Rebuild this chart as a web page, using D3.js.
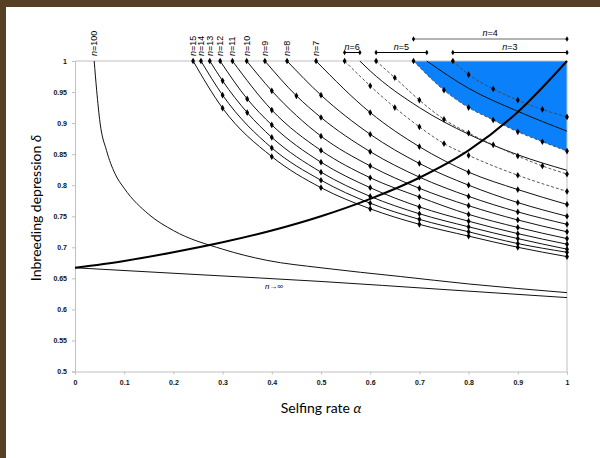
<!DOCTYPE html>
<html><head><meta charset="utf-8">
<script src="https://cdn.jsdelivr.net/npm/d3@7"></script>
<style>body{margin:0;background:#fff}svg{display:block}</style>
</head><body>
<svg id="c" width="600" height="458"></svg>
<script>
// ---- data ----
const alphaTicks = [0,0.1,0.2,0.3,0.4,0.5,0.6,0.7,0.8,0.9,1];
const deltaTicks = [0.5,0.55,0.6,0.65,0.7,0.75,0.8,0.85,0.9,0.95,1];

// marked curves (alpha, delta)
const n15 = [[0.240,1],[0.3,0.924],[0.4,0.846],[0.5,0.796],[0.6,0.762],[0.7,0.737],[0.8,0.718],[0.9,0.700],[1,0.685]];
const n14 = [[0.256,1],[0.3,0.945],[0.4,0.860],[0.5,0.808],[0.6,0.771],[0.7,0.745],[0.8,0.725],[0.9,0.706],[1,0.692]];
const n13 = [[0.274,1],[0.3,0.968],[0.35,0.917],[0.4,0.877],[0.5,0.821],[0.6,0.782],[0.7,0.754],[0.8,0.733],[0.9,0.714],[1,0.697]];
const n12 = [[0.295,1],[0.35,0.939],[0.4,0.897],[0.5,0.837],[0.6,0.796],[0.7,0.765],[0.8,0.742],[0.9,0.722],[1,0.705]];
const n11 = [[0.320,1],[0.4,0.921],[0.5,0.856],[0.6,0.812],[0.7,0.781],[0.8,0.753],[0.9,0.732],[1,0.714]];
const n10 = [[0.349,1],[0.4,0.952],[0.5,0.879],[0.6,0.831],[0.7,0.795],[0.8,0.767],[0.9,0.744],[1,0.725]];
const n9  = [[0.386,1],[0.45,0.944],[0.5,0.909],[0.6,0.854],[0.7,0.813],[0.8,0.782],[0.9,0.757],[1,0.737]];
const n8  = [[0.431,1],[0.5,0.945],[0.6,0.882],[0.7,0.835],[0.8,0.800],[0.9,0.772],[1,0.750]];
const n7  = [[0.490,1],[0.6,0.917],[0.7,0.862],[0.8,0.821],[0.9,0.793],[1,0.769]];
// dashed marked curves
const n6d = [[0.548,1],[0.6,0.960],[0.65,0.925],[0.7,0.894],[0.75,0.867],[0.8,0.848],[0.9,0.816],[1,0.790]];
const n5d = [[0.612,1],[0.65,0.973],[0.7,0.937],[0.75,0.906],[0.8,0.884],[0.85,0.865],[0.9,0.847],[0.95,0.831],[1,0.818]];
const n4d = [[0.688,1],[0.75,0.953],[0.8,0.925],[0.85,0.905],[0.9,0.886],[0.95,0.870],[1,0.855]];
const n3d = [[0.768,1],[0.8,0.978],[0.85,0.955],[0.9,0.937],[0.95,0.922],[1,0.910]];
// solid unmarked curves
const n6s = [[0.579,1],[0.6,0.984],[0.7,0.925],[0.8,0.882],[0.9,0.849],[1,0.824]];
const n5s = [[0.715,1],[0.8,0.956],[0.9,0.919],[1,0.887]];
const n100 = [[0.039,1],[0.044,0.953],[0.051,0.9],[0.064,0.856],[0.081,0.819],[0.1,0.795],[0.15,0.753],[0.2,0.727],[0.3,0.697],[0.39,0.679],[0.5,0.667],[0.661,0.653],[0.8,0.641],[1,0.627]];
const nInf = [[0,0.667],[0.25,0.656],[0.5,0.645],[0.75,0.632],[1,0.619]];
const thick = [[0,0.667],[0.1,0.678],[0.2,0.692],[0.3,0.708],[0.4,0.727],[0.5,0.750],[0.6,0.778],[0.7,0.812],[0.8,0.856],[0.9,0.918],[1,1]];

// labels
const vertLabels = [["15",0.240],["14",0.256],["13",0.274],["12",0.295],["11",0.320],["10",0.349],["9",0.386],["8",0.431],["7",0.490],["100",0.039]];
const barLabels = [["6",0.548,0.579,0],["5",0.612,0.715,0],["3",0.768,1.0,0],["4",0.688,1.0,1]];

// ---- drawing ----
const svg = d3.select('#c');
svg.append('rect').attr('width',600).attr('height',458).attr('fill','#fff');
const brown = '#553f25';
svg.append('rect').attr('x',0).attr('y',0).attr('width',6).attr('height',458).attr('fill',brown);
svg.append('rect').attr('x',0).attr('y',0).attr('width',600).attr('height',7).attr('fill',brown);

const x = d3.scaleLinear().domain([0,1]).range([75,567]);
const y = d3.scaleLinear().domain([0.5,1]).range([371.5,61]);

const line = d3.line().x(d=>x(d[0])).y(d=>y(d[1])).curve(d3.curveMonotoneX);
const area = d3.area().x(d=>x(d[0])).y0(y(1)).y1(d=>y(d[1])).curve(d3.curveMonotoneX);

// blue region
svg.append('path').attr('d',area(n4d)).attr('fill','#0a80fa');

// frame lines
const gray = '#c0c0c0';
svg.append('line').attr('x1',x(0)).attr('x2',x(1)).attr('y1',y(1)).attr('y2',y(1)).attr('stroke',gray);
svg.append('line').attr('x1',x(1)).attr('x2',x(1)).attr('y1',y(1)).attr('y2',y(0.5)).attr('stroke',gray);

const fmt = d=>String(+d.toFixed(2));
const gx = svg.append('g').attr('transform',`translate(0,${y(0.5)})`)
  .call(d3.axisBottom(x).tickValues(alphaTicks).tickSize(3).tickPadding(6).tickFormat(fmt));
const gy = svg.append('g').attr('transform',`translate(${x(0)},0)`)
  .call(d3.axisLeft(y).tickValues(deltaTicks).tickSize(3).tickPadding(5).tickFormat(fmt));
[gx,gy].forEach(g=>{
  g.select('.domain').attr('stroke',gray);
  g.selectAll('.tick line').attr('stroke',gray);
  g.selectAll('text').attr('font-family','Liberation Sans, Arial, sans-serif').attr('font-size',7).attr('font-weight','bold').attr('fill','#111');
});

// curves
const solidMarked = [n15,n14,n13,n12,n11,n10,n9,n8,n7];
const dashedMarked = [n6d,n5d,n4d,n3d];
[n100,nInf,n6s,n5s].forEach(c=>svg.append('path').attr('d',line(c)).attr('fill','none').attr('stroke','#111').attr('stroke-width',1));
solidMarked.forEach(c=>svg.append('path').attr('d',line(c)).attr('fill','none').attr('stroke','#111').attr('stroke-width',1));
dashedMarked.forEach(c=>svg.append('path').attr('d',line(c)).attr('fill','none').attr('stroke','#444').attr('stroke-width',0.9).attr('stroke-dasharray','3,2'));
svg.append('path').attr('d',line(thick)).attr('fill','none').attr('stroke','#000').attr('stroke-width',2);

// markers
const sym = d3.symbol().type(d3.symbolDiamond).size(13);
solidMarked.concat(dashedMarked).forEach(c=>{
  svg.append('g').selectAll('path').data(c).join('path')
    .attr('transform',d=>`translate(${x(d[0])},${y(d[1])})`).attr('d',sym).attr('fill','#000');
});

// vertical n labels
const lf = 'Liberation Sans, Arial, sans-serif';
vertLabels.forEach(([t,a])=>{
  const tx = svg.append('text').attr('transform',`translate(${x(a)+3},56) rotate(-90)`)
    .attr('font-family',lf).attr('font-size',9).attr('fill','#000');
  tx.append('tspan').attr('font-style','italic').text('n');
  tx.append('tspan').text('='+t);
});

// bar labels
barLabels.forEach(([t,a0,a1,row])=>{
  const by = row ? 39 : 52.5;
  svg.append('line').attr('x1',x(a0)).attr('x2',x(a1)).attr('y1',by).attr('y2',by)
    .attr('stroke',row ? '#666' : '#000').attr('stroke-width',1);
  [a0,a1].forEach(a=>svg.append('path').attr('transform',`translate(${x(a)},${by})`).attr('d',d3.symbol().type(d3.symbolDiamond).size(9)).attr('fill','#000'));
  const tx = svg.append('text').attr('x',(x(a0)+x(a1))/2).attr('y',by-3).attr('text-anchor','middle')
    .attr('font-family',lf).attr('font-size',9).attr('fill','#000');
  tx.append('tspan').attr('font-style','italic').text('n');
  tx.append('tspan').text('='+t);
});

// n -> infinity label
const li = svg.append('text').attr('x',x(0.386)).attr('y',289).attr('font-family',lf).attr('font-size',8).attr('fill','#000');
li.append('tspan').attr('font-style','italic').text('n');
li.append('tspan').text('\u2192\u221E');

// axis titles
const tf = 'Lato, Open Sans, sans-serif';
const xt = svg.append('text').attr('x',x(0.5)).attr('y',413).attr('text-anchor','middle').attr('font-family',tf).attr('font-size',14).attr('fill','#000');
xt.append('tspan').text('Selfing rate ');
xt.append('tspan').attr('font-style','italic').text('\u03B1');
const yt = svg.append('text').attr('transform',`translate(41,208) rotate(-90)`).attr('text-anchor','middle').attr('font-family',tf).attr('font-size',14).attr('fill','#000');
yt.append('tspan').text('Inbreeding depression ');
yt.append('tspan').attr('font-style','italic').text('\u03B4');
</script>
</body></html>
